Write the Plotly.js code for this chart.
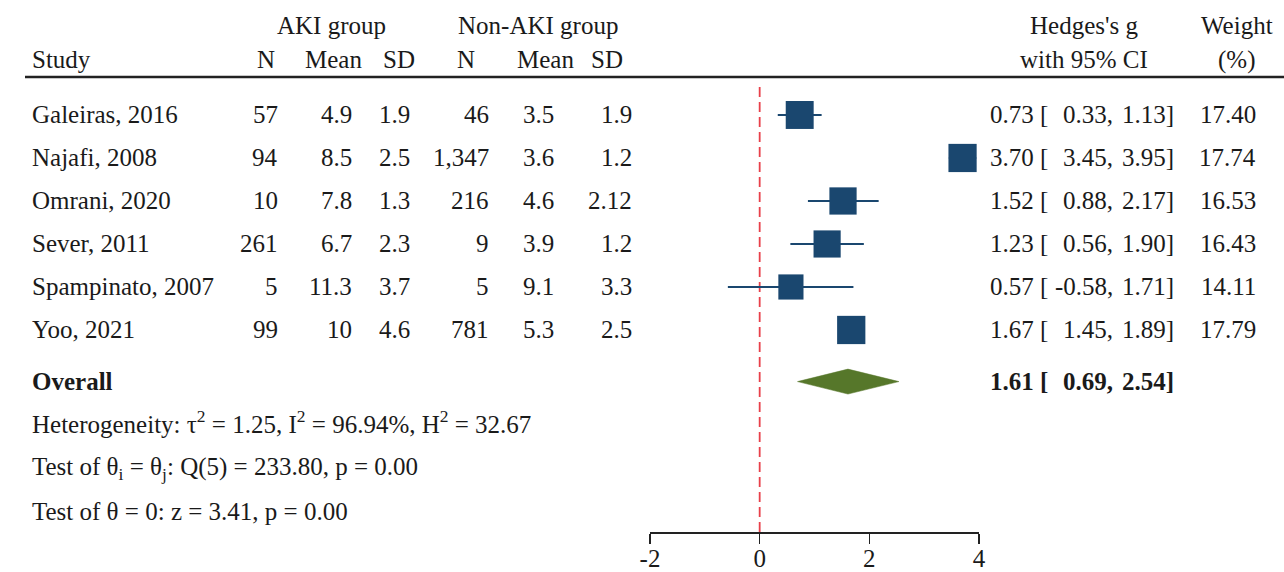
<!DOCTYPE html>
<html>
<head>
<meta charset="utf-8">
<script src="https://cdn.plot.ly/plotly-3.0.1.min.js"></script>
<style>html,body{margin:0;padding:0;background:#fff;}</style>
</head>
<body>
<div id="chart" style="width:1284px;height:572px;"></div>
<script>
// ---- data ----
const studies   = ["Galeiras, 2016", "Najafi, 2008", "Omrani, 2020", "Sever, 2011", "Spampinato, 2007", "Yoo, 2021"];
const akiN      = ["57", "94", "10", "261", "5", "99"];
const akiMean   = ["4.9", "8.5", "7.8", "6.7", "11.3", "10"];
const akiSD     = ["1.9", "2.5", "1.3", "2.3", "3.7", "4.6"];
const nonN      = ["46", "1,347", "216", "9", "5", "781"];
const nonMean   = ["3.5", "3.6", "4.6", "3.9", "9.1", "5.3"];
const nonSD     = ["1.9", "1.2", "2.12", "1.2", "3.3", "2.5"];
const g         = [0.73, 3.70, 1.52, 1.23, 0.57, 1.67];
const ciLow     = [0.33, 3.45, 0.88, 0.56, -0.58, 1.45];
const ciHigh    = [1.13, 3.95, 2.17, 1.90, 1.71, 1.89];
const weight    = [17.40, 17.74, 16.53, 16.43, 14.11, 17.79];
const overallG = 1.61, overallLow = 0.69, overallHigh = 2.54;
const statLines = [
  "Heterogeneity: τ<sup>2</sup> = 1.25, I<sup>2</sup> = 96.94%, H<sup>2</sup> = 32.67",
  "Test of θ<sub>i</sub> = θ<sub>j</sub>: Q(5) = 233.80, p = 0.00",
  "Test of θ = 0: z = 3.41, p = 0.00"
];
const xTicks = [-2, 0, 2, 4];

// ---- layout helpers ----
const W = 1284, H = 572;
const FONT = "Liberation Serif, Times New Roman, serif";
const TXT = "#1a1a1a";
const NAVY = "#1a476f";
const GREEN = "#56772a";
const rows = studies.map((_, i) => i);
const overallRow = 6.2;
const statRows = [7.14, 8.23, 9.21];
const hdr1 = -2.09, hdr2 = -1.28;
const px = v => v / W;

const annotations = [];
function txt(x, y, text, anchor, extra) {
  annotations.push(Object.assign({
    xref: "paper", yref: "y", x: px(x), y: y, text: text,
    xanchor: anchor, yanchor: "middle", showarrow: false,
    font: {family: FONT, size: 25, color: TXT}
  }, extra || {}));
}

// headers
txt(331, hdr1, "AKI group", "center");
txt(538, hdr1, "Non-AKI group", "center");
txt(1084, hdr1, "Hedges's g", "center");
txt(1237, hdr1, "Weight", "center");
txt(30, hdr2, "Study", "left");
txt(266, hdr2, "N", "center");
txt(334, hdr2, "Mean", "center");
txt(399, hdr2, "SD", "center");
txt(466, hdr2, "N", "center");
txt(545, hdr2, "Mean", "center");
txt(607, hdr2, "SD", "center");
txt(1084, hdr2, "with 95% CI", "center");
txt(1236, hdr2, "(%)", "center");

// study rows
rows.forEach(i => {
  txt(30, i, studies[i], "left");
  txt(280, i, akiN[i], "right");
  txt(354, i, akiMean[i], "right");
  txt(412, i, akiSD[i], "right");
  txt(491, i, nonN[i], "right");
  txt(556, i, nonMean[i], "right");
  txt(634, i, nonSD[i], "right");
  txt(988, i, g[i].toFixed(2) + " [", "left");
  txt(1115, i, ciLow[i].toFixed(2) + ",", "right");
  txt(1176, i, ciHigh[i].toFixed(2) + "]", "right");
  txt(1258, i, weight[i].toFixed(2), "right");
});

// overall
txt(30, overallRow, "<b>Overall</b>", "left");
txt(988, overallRow, "<b>" + overallG.toFixed(2) + " [</b>", "left");
txt(1115, overallRow, "<b>" + overallLow.toFixed(2) + ",</b>", "right");
txt(1176, overallRow, "<b>" + overallHigh.toFixed(2) + "]</b>", "right");

statLines.forEach((s, k) => txt(30, statRows[k], s, "left"));

// ---- traces ----
const ciX = [], ciY = [];
rows.forEach(i => { ciX.push(ciLow[i], ciHigh[i], null); ciY.push(i, i, null); });

const dh = 0.29;
const traces = [
  {type: "scatter", mode: "lines", x: ciX, y: ciY,
   line: {color: NAVY, width: 2}, hoverinfo: "skip", showlegend: false},
  {type: "scatter", mode: "markers", x: g, y: rows,
   marker: {symbol: "square", color: NAVY, opacity: 1,
            size: weight.map(w => 6.7 * Math.sqrt(w)), line: {width: 0}},
   showlegend: false},
  {type: "scatter", mode: "lines", fill: "toself", fillcolor: GREEN,
   x: [overallLow, overallG, overallHigh, overallG, overallLow],
   y: [overallRow, overallRow - dh, overallRow, overallRow + dh, overallRow],
   line: {color: GREEN, width: 0.5}, showlegend: false}
];

const layout = {
  width: W, height: H,
  margin: {l: 0, r: 0, t: 0, b: 40, pad: 0},
  paper_bgcolor: "#fff", plot_bgcolor: "rgba(0,0,0,0)",
  showlegend: false,
  xaxis: {
    domain: [650 / W, 979 / W], range: [-2, 4],
    tickvals: xTicks, ticktext: xTicks.map(String),
    showline: true, linecolor: "#222", linewidth: 1.5,
    ticks: "outside", ticklen: 10, tickwidth: 1.5, tickcolor: "#222",
    ticklabelstandoff: -7,
    showgrid: false, zeroline: false,
    tickfont: {family: FONT, size: 25, color: TXT},
    fixedrange: true
  },
  yaxis: {
    range: [9.698, -2.674], visible: false, showgrid: false, zeroline: false, fixedrange: true
  },
  shapes: [
    {type: "line", xref: "x", yref: "paper", x0: 0, x1: 0, y0: 0, y1: (532 - 85) / 532,
     line: {color: "#e8404a", width: 1.8, dash: "10px,5px"}, layer: "below"},
    {type: "line", xref: "paper", yref: "paper", x0: px(25), x1: 1, y0: (532 - 77) / 532, y1: (532 - 77) / 532,
     line: {color: "#222", width: 2.5}}
  ],
  annotations: annotations
};

Plotly.newPlot("chart", traces, layout, {displayModeBar: false, staticPlot: true});
</script>
</body>
</html>
